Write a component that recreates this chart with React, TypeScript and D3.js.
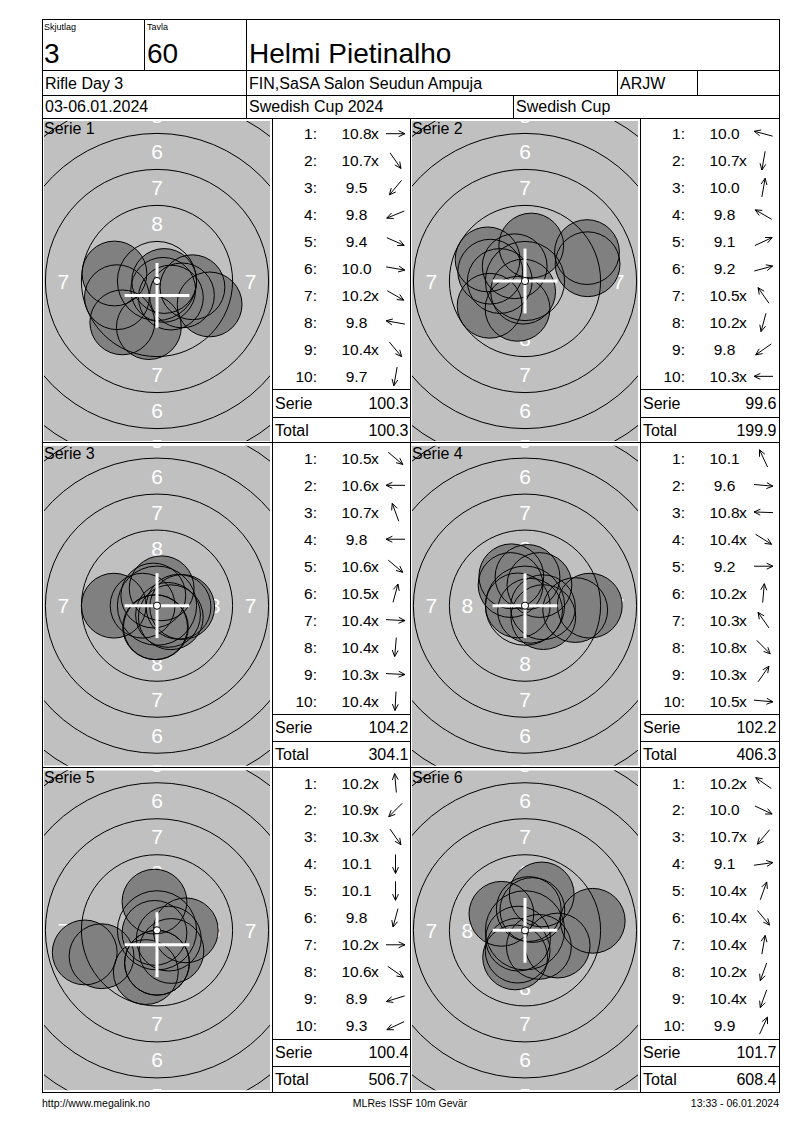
import { useEffect, useRef } from 'react';
import * as d3 from 'd3';

// Header texts
const skjutlag = '3';
const tavla = '60';
const shooterName = 'Helmi Pietinalho';
const eventName = 'Rifle Day 3';
const clubName = 'FIN,SaSA Salon Seudun Ampuja';
const shooterClass = 'ARJW';
const dateRange = '03-06.01.2024';
const competition = 'Swedish Cup 2024';
const cupName = 'Swedish Cup';
const footerLeft = 'http://www.megalink.no';
const footerMid = 'MLRes ISSF 10m Gevär';
const footerRight = '13:33 - 06.01.2024';

// Shot values per series, and shot direction in degrees (0 = right, 90 = up)
const scores1 = [10.8, 10.7, 9.5, 9.8, 9.4, 10.0, 10.2, 9.8, 10.4, 9.7];
const angles1 = [0, -55, -130, -158, -24, -10, -30, 170, -50, -100];
const scores2 = [10.0, 10.7, 10.0, 9.8, 9.1, 9.2, 10.5, 10.2, 9.8, 10.3];
const angles2 = [165, -100, 80, 150, 25, 15, 125, -105, -145, 180];
const scores3 = [10.5, 10.6, 10.7, 9.8, 10.6, 10.5, 10.4, 10.4, 10.3, 10.4];
const angles3 = [-40, 180, 110, 180, -40, 75, -3, -95, -3, -93];
const scores4 = [10.1, 9.6, 10.8, 10.4, 9.2, 10.2, 10.3, 10.8, 10.3, 10.5];
const angles4 = [115, -5, 178, -32, 0, 85, 125, -45, 55, -5];
const scores5 = [10.2, 10.9, 10.3, 10.1, 10.1, 9.8, 10.2, 10.6, 8.9, 9.3];
const angles5 = [95, -135, -55, -90, -90, -105, 0, -35, -163, -155];
const scores6 = [10.2, 10.0, 10.7, 9.1, 10.4, 10.4, 10.4, 10.2, 10.4, 9.9];
const angles6 = [145, -25, -130, 8, 70, -50, 80, -110, -110, 65];

const seriesScores = [scores1, scores2, scores3, scores4, scores5, scores6];
const seriesAngles = [angles1, angles2, angles3, angles4, angles5, angles6];

const ringValues = [1, 2, 3, 4, 5, 6, 7, 8, 9, 10];
const labelRings = [1, 2, 3, 4, 5, 6, 7, 8];

const font = '"Liberation Sans", Arial, sans-serif';

export default function App() {
  const ref = useRef<HTMLDivElement>(null);
  useEffect(() => {
    const width = 800;
    const height = 1130;
    const left = 42;
    const right = 779;
    const top = 19;
    const bottom = 1092;

    // mm on target -> px
    const px = d3.scaleLinear().domain([0, 1]).range([0, 14.4]);
    // decimal score -> distance of hole centre in mm
    const dist = d3.scaleLinear().domain([11, 10]).range([0, 2.5]);
    const ringR = (n: number) => (10 - n) * 2.5 + 0.25;
    const rowY = d3.scaleLinear().domain([0, 3]).range([118, bottom]);
    const targetX = [42, 410];
    const listX = [272, 640];
    const panelW = 226;
    const panelH = 320;

    const svg = d3.create('svg')
      .attr('width', width)
      .attr('height', height)
      .attr('viewBox', [0, 0, width, height])
      .attr('font-family', font)
      .style('position', 'absolute')
      .style('left', '0px')
      .style('top', '0px');

    svg.append('rect').attr('width', width).attr('height', height).attr('fill', '#fff');

    const lines = svg.append('g')
      .attr('stroke', '#000')
      .attr('stroke-width', 1)
      .attr('shape-rendering', 'crispEdges');
    const line = (x1: number, y1: number, x2: number, y2: number) =>
      lines.append('line').attr('x1', x1).attr('y1', y1).attr('x2', x2).attr('y2', y2);

    const text = (s: string, x: number, y: number, size: number, anchor = 'start', fill = '#000', parent: any = svg) =>
      parent.append('text')
        .attr('x', x).attr('y', y)
        .attr('font-size', size)
        .attr('text-anchor', anchor)
        .attr('fill', fill)
        .text(s);

    // header
    text('Skjutlag', 44, 30, 9);
    text(skjutlag, 44, 63, 28);
    text('Tavla', 147, 30, 9);
    text(tavla, 147, 63, 28);
    text(shooterName, 249, 63, 28);
    text(eventName, 45, 89, 16);
    text(clubName, 249, 89, 16);
    text(shooterClass, 620, 89, 16);
    text(dateRange, 45, 112, 16);
    text(competition, 249, 112, 16);
    text(cupName, 516, 112, 16);

    // series blocks
    seriesScores.forEach((scores, i) => {
      const angles = seriesAngles[i];
      const col = i % 2;
      const row = Math.floor(i / 2);
      const y0 = rowY(row);
      const tx = targetX[col];
      const lx = listX[col];
      const cx = tx + 115;
      const cy = y0 + 163;

      const clipId = `clip-${i}`;
      svg.append('clipPath').attr('id', clipId)
        .append('rect').attr('x', tx + 2).attr('y', y0 + 3).attr('width', panelW).attr('height', panelH);

      const g = svg.append('g').attr('clip-path', `url(#${clipId})`);
      g.append('rect')
        .attr('x', tx + 2).attr('y', y0 + 3).attr('width', panelW).attr('height', panelH)
        .attr('fill', '#c0c0c0');

      // ring numbers, only those that reach into the panel
      labelRings.forEach((n) => {
        const r = px((ringR(n) + ringR(n + 1)) / 2);
        [[0, -r], [0, r], [-r, 0], [r, 0]].forEach(([dx, dy]) => {
          if (Math.abs(dx) + 6 > panelW / 2 || Math.abs(dy) - 8 > panelH / 2) return;
          text(String(n), cx + dx, cy + dy + 7.5, 21, 'middle', '#fff', g);
        });
      });

      const pts = scores.map((s, k) => {
        const a = (angles[k] * Math.PI) / 180;
        const d = dist(s);
        return { x: d * Math.cos(a), y: -d * Math.sin(a) };
      });

      const pelletR = px(2.25);
      g.append('g').selectAll('circle').data(pts).join('circle')
        .attr('cx', (d) => cx + px(d.x))
        .attr('cy', (d) => cy + px(d.y))
        .attr('r', pelletR)
        .attr('fill', '#808080');

      g.append('g').selectAll('circle').data(ringValues.slice(0, 9)).join('circle')
        .attr('cx', cx).attr('cy', cy)
        .attr('r', (n) => px(ringR(n)))
        .attr('fill', 'none')
        .attr('stroke', '#000');

      g.append('g').selectAll('circle').data(pts).join('circle')
        .attr('cx', (d) => cx + px(d.x))
        .attr('cy', (d) => cy + px(d.y))
        .attr('r', pelletR)
        .attr('fill', 'none')
        .attr('stroke', '#000');

      // mean point of impact, whole mm
      const mx = cx + px(Math.trunc(d3.mean(pts, (d) => d.x)!));
      const my = cy + px(Math.trunc(d3.mean(pts, (d) => d.y)!));
      const arm = px(2.25);
      g.append('line').attr('x1', mx - arm).attr('x2', mx + arm).attr('y1', my).attr('y2', my)
        .attr('stroke', '#fff').attr('stroke-width', 3);
      g.append('line').attr('x1', mx).attr('x2', mx).attr('y1', my - arm).attr('y2', my + arm)
        .attr('stroke', '#fff').attr('stroke-width', 3);

      g.append('circle').attr('cx', cx).attr('cy', cy).attr('r', px(ringR(10)))
        .attr('fill', '#fff').attr('stroke', '#000');

      text(`Serie ${i + 1}`, tx + 2, y0 + 16, 16);

      // shot list
      const rowStep = 26.96;
      const fs = 15.5;
      scores.forEach((s, k) => {
        const ry = y0 + 15.7 + k * rowStep;
        text(`${k + 1}:`, lx + 45, ry + 5.5, fs, 'end');
        text(s.toFixed(1), lx + 84.5, ry + 5.5, fs, 'middle');
        if (s >= 10.2) text('x', lx + 99, ry + 5.5, fs);

        const a = (angles[k] * Math.PI) / 180;
        const ux = Math.cos(a);
        const uy = -Math.sin(a);
        const ax = lx + 123.5;
        const half = 9.5;
        const tipX = ax + ux * half;
        const tipY = ry + uy * half;
        const head = 7;
        const spread = (25 * Math.PI) / 180;
        const path = d3.path();
        path.moveTo(ax - ux * half, ry - uy * half);
        path.lineTo(tipX, tipY);
        [spread, -spread].forEach((sp) => {
          const bx = -(ux * Math.cos(sp) - uy * Math.sin(sp));
          const by = -(ux * Math.sin(sp) + uy * Math.cos(sp));
          path.moveTo(tipX, tipY);
          path.lineTo(tipX + bx * head, tipY + by * head);
        });
        svg.append('path').attr('d', path.toString())
          .attr('fill', 'none').attr('stroke', '#000').attr('stroke-width', 1);
      });

      const serieSum = d3.sum(scores);
      const total = d3.sum(seriesScores.slice(0, i + 1).flat());
      const listW = col === 0 ? targetX[1] - lx : right - lx;
      line(lx, y0 + 271.7, lx + listW, y0 + 271.7);
      line(lx, y0 + 299.3, lx + listW, y0 + 299.3);
      text('Serie', lx + 3, y0 + 290.5, 16);
      text((Math.round(serieSum * 10) / 10).toFixed(1), lx + 136.5, y0 + 290.5, 16, 'end');
      text('Total', lx + 3, y0 + 317.5, 16);
      text((Math.round(total * 10) / 10).toFixed(1), lx + 136.5, y0 + 317.5, 16, 'end');
    });

    // frame
    lines.raise();
    lines.append('rect').attr('x', left).attr('y', top).attr('width', right - left).attr('height', bottom - top)
      .attr('fill', 'none');
    line(left, 70, right, 70);
    line(left, 95, right, 95);
    line(left, 118, right, 118);
    line(144, top, 144, 70);
    line(246, top, 246, 118);
    line(617, 70, 617, 95);
    line(697, 70, 697, 95);
    line(513, 95, 513, 118);
    [1, 2].forEach((r) => line(left, rowY(r), right, rowY(r)));
    [272, 410, 640].forEach((x) => line(x, 118, x, bottom));

    // footer
    text(footerLeft, 42, 1107, 10.5);
    text(footerMid, 410, 1107, 10.5, 'middle');
    text(footerRight, 779, 1107, 10.5, 'end');

    const node = svg.node()!;
    ref.current?.append(node);
    return () => {
      node.remove();
    };
  });
  return <div ref={ref} />;
}
